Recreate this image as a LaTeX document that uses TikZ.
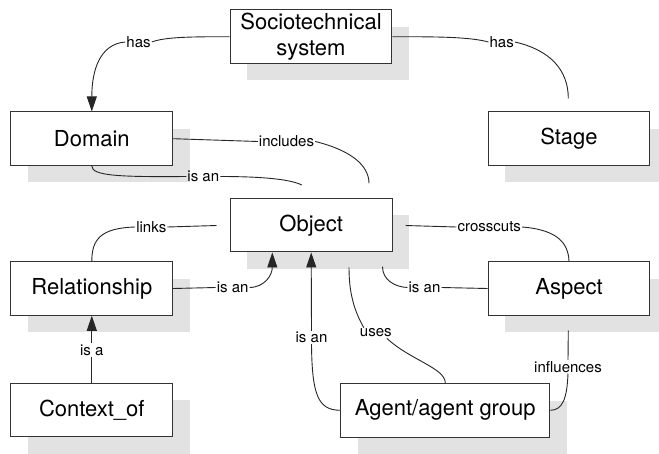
\documentclass[tikz,border=0pt]{standalone}
\usepackage{fontspec}
\setmainfont{TeX Gyre Heros}
\usetikzlibrary{shadows,arrows.meta,calc}
\definecolor{shade}{HTML}{E2E2E2}
\definecolor{edge}{HTML}{333333}
\begin{document}
\begin{tikzpicture}[x=1pt,y=-1pt,
  box/.style={draw=edge,line width=1pt,fill=white,inner sep=0pt,minimum height=53.5pt,minimum width=161.7pt,align=center,font=\fontsize{22}{26}\selectfont,drop shadow={shadow xshift=17pt,shadow yshift=-17pt,fill=shade,opacity=1}},
  lbl/.style={inner sep=1pt,font=\fontsize{15}{17}\selectfont},
  conn/.style={draw=black!85,line width=0.9pt},
  arr/.style={conn,-{Triangle[length=15pt,width=10pt]}}]
\useasboundingbox[fill=white] (0,0) rectangle (659,453);
% boxes
\node[box] (st) at (311,36.7) {Sociotechnical\\system};
\node[box] (dom) at (91.8,138.7) {Domain};
\node[box] (stg) at (569,138.7) {Stage};
\node[box] (obj) at (311.2,225.2) {Object};
\node[box] (rel) at (91.8,288.5) {Relationship};
\node[box] (asp) at (569,288.5) {Aspect};
\node[box] (ctx) at (91.8,410) {Context\_of};
\node[box,minimum width=209.3pt] (agt) at (445.3,410.3) {Agent/agent group};
% labels
\node[lbl] (hasL) at (138.5,42) {has};
\node[lbl] (hasR) at (501.7,42) {has};
\node[lbl] (inc) at (286.5,141.5) {includes};
\node[lbl] (isan1) at (203.3,176.5) {is an};
\node[lbl] (links) at (151.3,227) {links};
\node[lbl] (cross) at (489.3,227) {crosscuts};
\node[lbl] (isan2) at (232.7,287.5) {is an};
\node[lbl] (isan3) at (311.5,337.5) {is an};
\node[lbl] (isan4) at (424.5,287.5) {is an};
\node[lbl] (uses) at (375.8,333) {uses};
\node[lbl] (infl) at (568,366.7) {influences};
\node[lbl] (isa) at (91.8,350) {is a};
% free ends
\coordinate (stgT) at (568.3,98.3);
\coordinate (objTL) at (301.8,185);
\coordinate (objTR) at (369,183.3);
\coordinate (objL) at (216.5,225.5);
\coordinate (objR) at (405.6,225.5);
\coordinate (objB1) at (349,267.3);
\coordinate (objB2) at (382.5,266.7);
\coordinate (aspB) at (568.3,330.7);
% connectors
\draw[conn] (st.west) .. controls (190,36.7) and (165,37) .. (hasL.east);
\draw[arr] (hasL.west) .. controls (100,44) and (91.8,70) .. (dom.north);
\draw[conn] (st.east) .. controls (440,36.7) and (470,37) .. (hasR.west);
\draw[conn] (hasR.east) .. controls (550,50) and (568.3,70) .. (stgT);
\draw[conn] (dom.east) -- (inc.west);
\draw[conn] (inc.east) .. controls (350,150) and (369,165) .. (objTR);
\draw[conn] (dom.south) .. controls (91.8,176) and (120,177) .. (isan1.west);
\draw[conn] (isan1.east) .. controls (260,176.5) and (290,179) .. (objTL);
\draw[conn] (links.east) -- (objL);
\draw[conn] (links.west) .. controls (100,228) and (91.8,240) .. (rel.north);
\draw[conn] (objR) -- (cross.west);
\draw[conn] (cross.east) .. controls (560,230) and (568.3,245) .. (asp.north);
\draw[conn] (rel.east) -- (isan2.west);
\draw[arr] (isan2.east) .. controls (265,287) and (272.3,275) .. ($(obj.south)+(-38.9,0)$);
\draw[arr] (isan3.north) -- (obj.south);
\draw[conn] (isan3.south) .. controls (312,395) and (318,410) .. (agt.west);
\draw[conn] (asp.west) -- (isan4.east);
\draw[conn] (isan4.west) .. controls (395,287) and (382.5,280) .. (objB2);
\draw[conn] (objB1) .. controls (349,295) and (355,312) .. ([xshift=5pt]uses.north west);
\draw[conn] ([xshift=-6pt]uses.south east) .. controls (410,360) and (445.3,368) .. (agt.north);
\draw[conn] (aspB) -- (infl.north);
\draw[conn] (infl.south) .. controls (567,400) and (562,410) .. (agt.east);
\draw[conn] (ctx.north) -- (isa.south);
\draw[arr] (isa.north) -- (rel.south);
\end{tikzpicture}
\end{document}
